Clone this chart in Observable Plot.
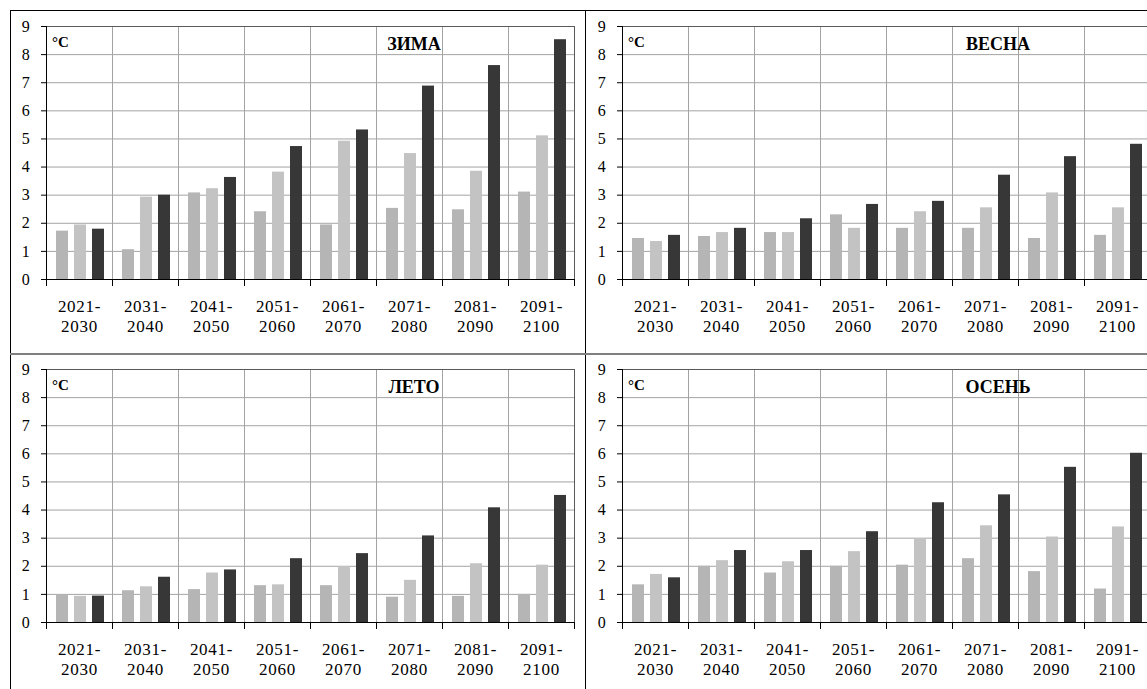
<!DOCTYPE html>
<html>
<head>
<meta charset="utf-8">
<script src="https://cdn.jsdelivr.net/npm/d3@7"></script>
<script src="https://cdn.jsdelivr.net/npm/@observablehq/plot@0.6"></script>
<style>
  html, body { margin: 0; padding: 0; background: #fff; overflow: hidden; }
  #wrap { position: relative; width: 1147px; height: 689px; overflow: hidden; background: #fff;
          font-family: "Liberation Serif", serif; }
  .panel { position: absolute; }
  .panel svg { display: block; }
  #wrap svg, #wrap svg text { font-family: "Liberation Serif", serif !important; }
  #wrap svg text { letter-spacing: 0.7px; }
  .rule { position: absolute; }
  .ttl { position: absolute; width: 120px; text-align: center; font-weight: bold; font-size: 18px;
         line-height: 18px; color: #000; white-space: nowrap; font-family: "Liberation Serif", serif; }
  .unit { position: absolute; font-weight: bold; font-size: 15px; line-height: 15px; color: #000;
          font-family: "Liberation Serif", serif; }
</style>
</head>
<body>
<div id="wrap"></div>
<script>
// ---------- data ----------
const periods = ["2021-2030", "2031-2040", "2041-2050", "2051-2060",
                 "2061-2070", "2071-2080", "2081-2090", "2091-2100"];
const seriesNames = ["A", "B", "C"];
const yTicks = [0, 1, 2, 3, 4, 5, 6, 7, 8, 9];

const zimaA  = [1.72, 1.06, 3.08, 2.41, 1.94, 2.53, 2.48, 3.11];
const zimaB  = [1.94, 2.93, 3.23, 3.82, 4.92, 4.48, 3.85, 5.11];
const zimaC  = [1.79, 3.00, 3.63, 4.73, 5.32, 6.88, 7.61, 8.53];

const vesnaA = [1.46, 1.53, 1.67, 2.30, 1.82, 1.82, 1.46, 1.57];
const vesnaB = [1.35, 1.67, 1.67, 1.82, 2.41, 2.55, 3.08, 2.55];
const vesnaC = [1.57, 1.82, 2.16, 2.67, 2.78, 3.71, 4.37, 4.81];

const letoA  = [0.99, 1.13, 1.17, 1.31, 1.31, 0.90, 0.93, 1.00];
const letoB  = [0.93, 1.27, 1.76, 1.34, 1.99, 1.50, 2.09, 2.04];
const letoC  = [0.94, 1.61, 1.87, 2.27, 2.45, 3.08, 4.08, 4.52];

const osenA  = [1.34, 2.00, 1.76, 2.00, 2.04, 2.27, 1.81, 1.19];
const osenB  = [1.71, 2.20, 2.16, 2.52, 2.97, 3.44, 3.04, 3.40];
const osenC  = [1.59, 2.56, 2.56, 3.23, 4.26, 4.54, 5.52, 6.02];

const titles = ["ЗИМА", "ВЕСНА", "ЛЕТО", "ОСЕНЬ"];
const unitLabel = "°C";

// ---------- styles ----------
const barColors = ["#b5b5b5", "#c3c3c3", "#373737"];
const gridColor = "#a3a3a3";
const edgeColor = "#5a5a5a";

function makeRows(a, b, c) {
  const rows = [];
  const cols = [a, b, c];
  periods.forEach((p, i) => cols.forEach((arr, j) => rows.push({period: p, series: seriesNames[j], value: arr[i]})));
  return rows;
}

function panel(a, b, c, m) {
  const rows = makeRows(a, b, c);
  const plotH = m.height - m.marginTop - m.marginBottom;
  return Plot.plot({
    width: m.width, height: m.height,
    marginLeft: m.marginLeft, marginRight: m.marginRight,
    marginTop: m.marginTop, marginBottom: m.marginBottom,
    style: {fontFamily: "'Liberation Serif', serif", fontSize: "16px", color: "#000",
            background: "none", overflow: "visible", maxWidth: "none"},
    fx: {domain: periods, padding: 0, label: null},
    x: {domain: seriesNames, paddingInner: 0.33, paddingOuter: 0.45, align: 0.56, axis: null},
    y: {domain: [0, 9], label: null},
    color: {domain: seriesNames, range: barColors},
    marks: [
      Plot.gridY(yTicks.slice(1, -1), {stroke: gridColor, strokeOpacity: 1}),
      Plot.frame({stroke: gridColor}),
      Plot.ruleY([9], {stroke: edgeColor}),
      Plot.frame({anchor: "right", facetAnchor: "right", stroke: edgeColor}),
      Plot.barY(rows, {fx: "period", x: "series", y: "value", fill: "series"}),
      Plot.ruleY([0], {stroke: "#000"}),
      Plot.frame({anchor: "left", facetAnchor: "left", stroke: "#000"}),
      Plot.frame({anchor: "left", insetTop: plotH, insetBottom: -6, stroke: "#000"}),
      Plot.frame({anchor: "right", insetTop: plotH, insetBottom: -6, stroke: "#000"}),
      Plot.axisY(yTicks, {anchor: "left", tickSize: 5, tickPadding: 11, fontSize: 16, label: null, stroke: "#000"}),
      Plot.axisFx({anchor: "bottom", tickSize: 0, tickPadding: 18, fontSize: 17, lineHeight: 1.18,
                   tickFormat: d => d.replace("-", "-\n"), label: null})
    ]
  });
}

const wrap = document.getElementById("wrap");
const rowTop = {height: 353, marginTop: 26, marginBottom: 74};
const rowBot = {height: 336, marginTop: 16, marginBottom: 67};
const colLeft = {width: 585, marginLeft: 43, marginRight: 9};
const colRight = {width: 585, marginLeft: 34, marginRight: 18};

const panels = [
  {data: [zimaA, zimaB, zimaC],    x: 0,   y: 0,   m: {...rowTop, ...colLeft}},
  {data: [vesnaA, vesnaB, vesnaC], x: 585, y: 0,   m: {...rowTop, ...colRight}},
  {data: [letoA, letoB, letoC],    x: 0,   y: 353, m: {...rowBot, ...colLeft}},
  {data: [osenA, osenB, osenC],    x: 585, y: 353, m: {...rowBot, ...colRight}}
];

panels.forEach((p, k) => {
  const div = document.createElement("div");
  div.className = "panel";
  div.style.left = p.x + "px";
  div.style.top = p.y + "px";
  div.style.width = p.m.width + "px";
  div.appendChild(panel(...p.data, p.m));
  wrap.appendChild(div);

  const t = document.createElement("div");
  t.className = "ttl";
  t.textContent = titles[k];
  const centerX = p.x + p.m.marginLeft + (k % 2 === 0 ? 371 : 379);
  t.style.left = (centerX - 60) + "px";
  t.style.top = (p.y + p.m.marginTop + 9) + "px";
  wrap.appendChild(t);

  const u = document.createElement("div");
  u.className = "unit";
  u.textContent = unitLabel;
  u.style.left = (p.x + p.m.marginLeft + 9) + "px";
  u.style.top = (p.y + p.m.marginTop + 9) + "px";
  wrap.appendChild(u);
});

// outer frame lines
function line(x, y, w, h, color) {
  const d = document.createElement("div");
  d.className = "rule";
  Object.assign(d.style, {left: x + "px", top: y + "px", width: w + "px", height: h + "px", background: color});
  wrap.appendChild(d);
}
line(10, 10, 1137, 1, "#000");
line(10, 10, 1, 679, "#000");
line(585, 10, 1, 679, "#000");
line(10, 353, 1137, 2, "#808080");
</script>
</body>
</html>
